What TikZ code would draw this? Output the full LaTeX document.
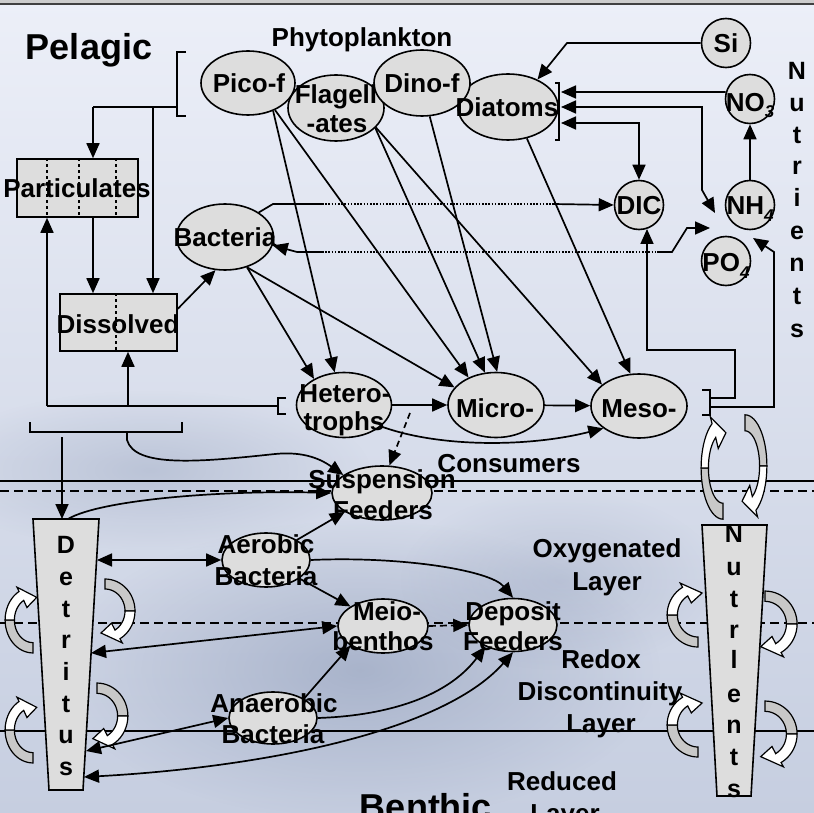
\documentclass[tikz,border=0pt]{standalone}
\usepackage{fontspec}
\setmainfont{Liberation Sans}
\usetikzlibrary{arrows.meta,shapes.geometric,fadings}

\definecolor{bgtop}{RGB}{236,239,248}
\definecolor{bgmid}{RGB}{220,226,238}
\definecolor{bgbot}{RGB}{198,206,224}
\definecolor{cloud}{RGB}{125,140,172}
\definecolor{nodefill}{RGB}{221,221,221}
\definecolor{tailfill}{RGB}{200,200,200}

\tikzfading[name=softcirc, inner color=transparent!0, outer color=transparent!100]

\tikzset{
 ell/.style={ellipse, draw=black, line width=1.6pt, fill=nodefill, inner sep=0pt},
 circ/.style={circle, draw=black, line width=1.6pt, fill=nodefill, inner sep=0pt, minimum size=49pt},
 box/.style={rectangle, draw=black, line width=1.6pt, fill=nodefill, inner sep=0pt},
 lbl/.style={font=\bfseries\fontsize{26}{28}\selectfont, inner sep=0pt, anchor=base},
 lett/.style={font=\bfseries\fontsize{25}{27}\selectfont, inner sep=0pt, anchor=base},
 big/.style={font=\bfseries\fontsize{36}{40}\selectfont, inner sep=0pt, anchor=base},
 con/.style={line width=1.7pt},
 arr/.style={con, -{Triangle[length=15pt,width=13pt]}},
 darr/.style={con, {Triangle[length=15pt,width=13pt]}-{Triangle[length=15pt,width=13pt]}},
 brk/.style={line width=1.7pt},
 dotl/.style={line width=1.3pt, dash pattern=on 1.6pt off 1.6pt},
 layersolid/.style={line width=1.6pt},
 layerdash/.style={line width=1.6pt, dash pattern=on 9pt off 5pt},
 carrow/.pic={
   \filldraw[fill=tailfill, line width=1.2pt] plot[domain=90:180,samples=16] ({30*cos(\x)},{32*sin(\x)}) -- plot[domain=180:90,samples=16] ({20*cos(\x)},{22*sin(\x)}) -- cycle;
   \filldraw[fill=white, line width=1.2pt] plot[domain=180:240,samples=10] ({30*cos(\x)},{32*sin(\x)}) -- ({34.5*cos(240)},{36.8*sin(240)}) -- (4,-22) -- ({13*cos(240)},{14*sin(240)}) -- plot[domain=240:180,samples=10] ({20*cos(\x)},{22*sin(\x)}) -- cycle;
 }
}

\begin{document}
\begin{tikzpicture}[x=1pt,y=-1pt]
\useasboundingbox (0,0) rectangle (814,813);
\clip (0,0) rectangle (814,813);
% background
\shade[top color=bgtop, middle color=bgmid, bottom color=bgbot] (0,0) rectangle (814,813);
\fill[cloud, opacity=0.45, path fading=softcirc] (360,670) ellipse [x radius=300, y radius=150];
\fill[cloud, opacity=0.30, path fading=softcirc] (150,470) ellipse [x radius=220, y radius=80];
\fill[cloud, opacity=0.25, path fading=softcirc] (560,580) ellipse [x radius=160, y radius=90];
\fill[black!20] (0,0) rectangle (814,3);
\draw[line width=1.8pt, black!75] (0,4) -- (814,4);

% layer lines
\draw[layersolid] (0,481) -- (814,481);
\draw[layerdash] (0,491) -- (814,491);
\draw[layerdash] (0,623) -- (814,623);
\draw[layersolid] (0,731) -- (814,731);

% curved block arrows
\pic[xscale=0.93, yscale=1.03] at (33,620) {carrow};
\pic[rotate=180, xscale=1.0, yscale=1.0] at (105,611) {carrow};
\pic[xscale=0.93, yscale=1.03] at (33,730) {carrow};
\pic[rotate=180, xscale=1.03, yscale=1.03] at (97,716) {carrow};
\pic[xscale=1.03, yscale=1.0] at (698,615) {carrow};
\pic[rotate=180, xscale=1.07, yscale=1.03] at (765,624) {carrow};
\pic[xscale=1.03, yscale=1.0] at (698,725) {carrow};
\pic[rotate=180, xscale=1.07, yscale=1.03] at (765,734) {carrow};
\pic[xscale=0.73, yscale=1.6] at (723,468) {carrow};
\pic[rotate=180, xscale=0.73, yscale=1.6] at (745,466) {carrow};

% trapezoid columns
\filldraw[fill=nodefill, line width=1.6pt] (33,519) -- (99,519) -- (83,790) -- (49,790) -- cycle;
\filldraw[fill=nodefill, line width=1.6pt] (702,525) -- (767,525) -- (751,796) -- (717,796) -- cycle;
\coordinate (dT) at (62,519);
\coordinate (dT2) at (68,519);
\coordinate (dA) at (97,560);
\coordinate (dM) at (91,653);
\coordinate (dN) at (86,751);
\coordinate (dD) at (84,777);

% nodes
\node[ell, minimum width=96pt, minimum height=66pt] (flag) at (336,108) {};
\node[ell, minimum width=94pt, minimum height=64pt] (pico) at (248,83) {};
\node[ell, minimum width=100pt, minimum height=66pt] (diat) at (508,107) {};
\node[ell, minimum width=96pt, minimum height=66pt] (dino) at (422,83) {};
\node[circ] (si) at (726,43) {};
\node[circ] (no3) at (750,99) {};
\node[circ] (dic) at (639,205) {};
\node[circ] (nh4) at (750,205) {};
\node[circ] (po4) at (726,261) {};
\node[ell, minimum width=97pt, minimum height=66pt] (bact) at (225,237) {};
\node[box, minimum width=121pt, minimum height=58pt] (part) at (77.5,188) {};
\node[box, minimum width=117pt, minimum height=57pt] (diss) at (118.5,322.5) {};
\node[ell, minimum width=95pt, minimum height=65pt] (het) at (344,405) {};
\node[ell, minimum width=96pt, minimum height=65pt] (micro) at (496,405) {};
\node[ell, minimum width=96pt, minimum height=64pt] (meso) at (639,406) {};
\node[ell, minimum width=100pt, minimum height=54pt] (susp) at (382,493) {};
\node[ell, minimum width=88pt, minimum height=54pt] (aer) at (266,560) {};
\node[ell, minimum width=90pt, minimum height=54pt] (meio) at (383,626) {};
\node[ell, minimum width=88pt, minimum height=53pt] (dep) at (513,625) {};
\node[ell, minimum width=88pt, minimum height=52pt] (anaer) at (273,718) {};

% dashed dividers in boxes
\draw[line width=1.2pt, dashed] (47,0 |- part.north) -- (47,0 |- part.south);
\draw[line width=1.2pt, dashed] (79,0 |- part.north) -- (79,0 |- part.south);
\draw[line width=1.2pt, dashed] (116,0 |- part.north) -- (116,0 |- part.south);
\draw[line width=1.2pt, dashed] (116,0 |- diss.north) -- (116,0 |- diss.south);

% phytoplankton bracket and detritus flows
\draw[brk] (186,52) -- (177,52) -- (177,116) -- (186,116);
\coordinate (pb) at (177,107);
\draw[con] (pb) -- (93,107);
\draw[arr] (93,107) -- (93,0 |- part.north);
\draw[arr] (153,107) -- (153,0 |- diss.north);
\draw[arr] (93,0 |- part.south) -- (93,0 |- diss.north);

\draw[brk] (286,398) -- (278,398) -- (278,414) -- (286,414);
\coordinate (hb) at (278,406);
\draw[con] (hb) -- (47,406);
\draw[arr] (47,406) -- (47,0 |- part.south);
\draw[arr] (128,406) -- (128,0 |- diss.south);

\draw[brk] (30,422) -- (30,432) -- (182,432) -- (182,422);
\coordinate (lb) at (127,432);
\draw[arr] (62,437) -- (dT);
\draw[arr] (lb) -- (127,440) .. controls (135,468) and (200,462) .. (275,454) .. controls (305,451) and (322,460) .. (susp.155);
\draw[arr] (dT2) .. controls (100,500) and (220,490) .. (susp.west);

% consumers
\coordinate (hd) at (410,413);
\draw[arr, dash pattern=on 6pt off 4pt] (hd) -- (susp.75);
\draw[arr] (het.330) .. controls (440,448) and (530,447) .. (meso.212);
\draw[arr] (het) -- (micro);
\draw[arr] (micro) -- (meso);

% meso bracket
\draw[brk] (702,390) -- (710,390) -- (710,415) -- (702,415);
\draw[arr] (710,398) -- (735,398) -- (735,350) -- (647,350) -- (647,229);
\coordinate (nt) at (753,238);
\draw[arr] (710,407) -- (774,407) -- (774,252) -- (nt);

% nutrients to diatoms
\draw[arr] (si.west) -- (567,43) -- (diat.43);
\draw[brk] (555,83) -- (559,83) -- (559,140) -- (555,140);
\coordinate (db1) at (561,92);
\coordinate (db2) at (561,107);
\coordinate (db3) at (561,123);
\draw[arr] (no3.164) -- (db1);
\draw[darr] (db2) -- (702,107) -- (702,190) -- (715,213);
\draw[darr] (db3) -- (639,123) -- (dic.north);
\draw[arr] (nh4.north) -- (no3.south);

% bacteria exchanges
\draw[con] (bact.36) -- (273,204) -- (322,204);
\draw[dotl] (322,204) -- (553,204);
\draw[arr] (553,204) -- (dic.west);
\draw[arr] (297,252) -- (bact.350);
\draw[con] (297,252) -- (322,252);
\draw[dotl] (322,252) -- (657,252);
\draw[arr] (657,252) -- (672,252) -- (687,228) -- (710,228);
\draw[arr] (diss.13) -- (bact.254);

% grazing
\draw[arr] (pico.312) -- (het.106);
\draw[arr] (pico.315) -- (micro.135);
\draw[arr] (flag.333) -- (micro.109);
\draw[arr] (flag.334) -- (meso.150);
\draw[arr] (dino.283) -- (micro.88);
\draw[arr] (diat.301) -- (meso.105);
\draw[arr] (bact.306) -- (het.139);
\draw[arr] (bact.306) -- (micro.157);

% benthic
\draw[darr] (dA) -- (aer.west);
\draw[arr] (aer.33) -- (susp.207);
\draw[arr] (aer.331) -- (meio.149);
\draw[arr] (aer.east) .. controls (400,556) and (490,570) .. (dep.north);
\draw[darr] (dM) -- (meio.west);
\draw[arr, dash pattern=on 7pt off 4pt] (meio.east) -- (dep.west);
\draw[arr] (anaer.32) -- (meio.211);
\draw[darr] (dN) -- (anaer.west);
\draw[arr] (anaer.east) .. controls (380,716) and (445,700) .. (dep.218);
\draw[darr] (dD) .. controls (250,768) and (440,735) .. (dep.south);

% texts
\node[big] (tpel) at (89,60) {Pelagic};
\node[lbl] (tphy) at (362,47) {Phytoplankton};
\node[lbl] (tpico) at (249,93) {Pico-f};
\node[lbl] (tfla1) at (336,104) {Flagell};
\node[lbl] (tfla2) at (337,133) {-ates};
\node[lbl] (tdino) at (422,93) {Dino-f};
\node[lbl] (tdiat) at (507,117) {Diatoms};
\node[lbl] (tsi) at (726,53) {Si};
\node[lbl] (tno3) at (750,112) {NO\raisebox{-6pt}{\fontsize{17}{17}\selectfont\itshape 3}};
\node[lbl] (tdic) at (639,215) {DIC};
\node[lbl] (tnh4) at (750,215) {NH\raisebox{-6pt}{\fontsize{17}{17}\selectfont\itshape 4}};
\node[lbl] (tpo4) at (726,272) {PO\raisebox{-6pt}{\fontsize{17}{17}\selectfont\itshape 4}};
\node[lbl] (tbact) at (225,247) {Bacteria};
\node[lbl] (tpart) at (77,198) {Particulates};
\node[lbl] (tdiss) at (118,333) {Dissolved};
\node[lbl] (thet1) at (345,402) {Hetero-};
\node[lbl] (thet2) at (344,430) {trophs};
\node[lbl] (tmicro) at (495,417) {Micro-};
\node[lbl] (tmeso) at (639,417) {Meso-};
\node[lbl] (tcons) at (509,472) {Consumers};
\node[lbl] (tsus1) at (382,488) {Suspension};
\node[lbl] (tsus2) at (383,519) {Feeders};
\node[lbl] (taer1) at (266,553) {Aerobic};
\node[lbl] (taer2) at (266,585) {Bacteria};
\node[lbl] (tmei1) at (387,620) {Meio-};
\node[lbl] (tmei2) at (383,650) {benthos};
\node[lbl] (tdep1) at (513,620) {Deposit};
\node[lbl] (tdep2) at (513,650) {Feeders};
\node[lbl] (tana1) at (274,712) {Anaerobic};
\node[lbl] (tana2) at (273,743) {Bacteria};
\node[lbl] (toxy1) at (607,557) {Oxygenated};
\node[lbl] (toxy2) at (607,590) {Layer};
\node[lbl] (trdx1) at (601,668) {Redox};
\node[lbl] (trdx2) at (600,700) {Discontinuity};
\node[lbl] (trdx3) at (601,732) {Layer};
\node[lbl] (tred1) at (562,790) {Reduced};
\node[lbl] (tred2) at (565,822) {Layer};
\node[big] (tben) at (426,819) {Benthic};

\foreach \c/\yy [count=\i] in {N/80,u/112,t/144,r/175,i/207,e/240,n/272,t/304,s/337}
  \node[lett] (nr\i) at (797,\yy) {\c};
\foreach \c/\yy [count=\i] in {D/553,e/585,t/617,r/648,i/680,t/712,u/743,s/775}
  \node[lett] (dt\i) at (66,\yy) {\c};
\foreach \c/\yy [count=\i] in {N/542,u/575,t/607,r/638,l/668,e/702,n/733,t/765,s/797}
  \node[lett] (nb\i) at (734,\yy) {\c};
\end{tikzpicture}
\end{document}
